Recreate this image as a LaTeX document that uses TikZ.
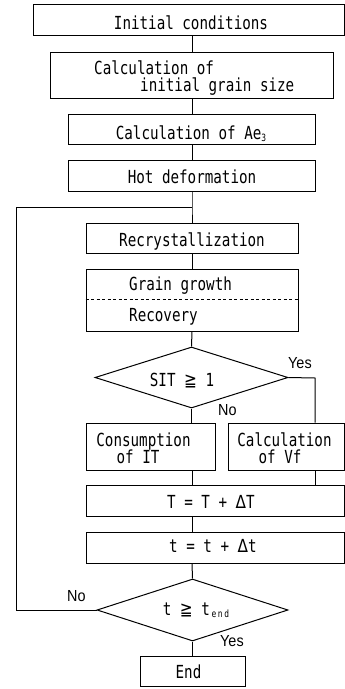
\documentclass[tikz,border=0pt]{standalone}
\usepackage{fontspec}
\setmainfont{DejaVu Sans Mono}[FakeStretch=0.79]
\newfontfamily\symf{DejaVu Sans}[FakeStretch=0.85]
\newfontfamily\lblf{Liberation Sans}[FakeStretch=0.9]
\usetikzlibrary{shapes.geometric}
\newcommand{\geqq}{{\symf ≧}}
\newcommand{\lowsub}[1]{\raisebox{-2pt}{\fontsize{10}{10}\selectfont #1}}
\begin{document}
\begin{tikzpicture}[x=1pt,y=-1pt,
  every node/.style={font=\fontsize{18}{15}\selectfont, inner sep=0pt},
  box/.style={draw, line width=1pt, rectangle},
  dia/.style={draw, line width=1pt, diamond, inner sep=0pt},
  txt/.style={anchor=base},
  lbl/.style={anchor=base west, font=\lblf\fontsize{16}{16}\selectfont},
  ln/.style={line width=1pt}]
\useasboundingbox (0,0) rectangle (345,689);
% boxes
\node[box, minimum width=311, minimum height=31] (b1) at (188.5,19.5) {};
\node[box, minimum width=283, minimum height=46] (b2) at (191.5,75) {};
\node[box, minimum width=247, minimum height=30] (b3) at (191.5,129) {};
\node[box, minimum width=247, minimum height=31] (b4) at (191.5,175.5) {};
\node[box, minimum width=212, minimum height=30] (b5) at (192,238) {};
\node[box, minimum width=212, minimum height=62] (b6) at (192,300) {};
\node[dia, minimum width=193, minimum height=61] (d1) at (191.5,377.5) {};
\node[box, minimum width=129, minimum height=47] (cons) at (150.5,446.5) {};
\node[box, minimum width=116, minimum height=47] (vf) at (286,446.5) {};
\node[box, minimum width=258, minimum height=31] (tb) at (215,500.5) {};
\node[box, minimum width=258, minimum height=31] (tt) at (215,547.5) {};
\node[dia, minimum width=191, minimum height=62] (d2) at (192.5,610) {};
\node[box, minimum width=105, minimum height=30] (en) at (192.5,671) {};
% dashed divider
\draw[ln, dash pattern=on 3pt off 2.5pt] (b6.west |- 0,299) coordinate (dl) -- (b6.east |- dl);
% texts
\node[txt] (t1) at (191,29) {Initial conditions};
\node[anchor=base west] (t2a) at (94,74) {Calculation of};
\node[anchor=base west] (t2b) at (140,91) {initial grain size};
\node[txt] (t3) at (191,139) {Calculation of Ae\lowsub{3}};
\node[txt] (t4) at (192,183) {Hot deformation};
\node[txt] (t5) at (192,246) {Recrystallization};
\node[anchor=base west] (t6a) at (129,290) {Grain growth};
\node[anchor=base west] (t6b) at (129,321) {Recovery};
\node[txt] (t7) at (182,386) {SIT \geqq\ 1};
\node[txt] (t8a) at (143.5,446) {Consumption};
\node[txt] (t8b) at (138,463) {of IT};
\node[txt] (t9a) at (284.5,446) {Calculation};
\node[txt] (t9b) at (280,463) {of Vf};
\node[txt] (t10) at (211,508) {T = T + {\symf Δ}T};
\node[txt] (t11) at (213,552) {t = t + {\symf Δ}t};
\node[txt] (t12) at (196,615) {t \geqq\ t\lowsub{\,e\,n\,d}};
\node[txt] (t13) at (188.5,678) {End};
\node[lbl] (y1) at (288,368) {Yes};
\node[lbl] (n1) at (218,415) {No};
\node[lbl] (n2) at (67,601) {No};
\node[lbl] (y2) at (220,646) {Yes};
% connectors
\coordinate (cx) at (192,0);
\coordinate (j) at (192,207);
\coordinate (loopL) at (16,207);
\coordinate (yx) at (315,378);
\draw[ln] (cx |- b1.south) -- (cx |- b2.north);
\draw[ln] (cx |- b2.south) -- (cx |- b3.north);
\draw[ln] (cx |- b3.south) -- (cx |- b4.north);
\draw[ln] (cx |- b4.south) -- (j) -- (cx |- b5.north);
\draw[ln] (b5.south) -- (b6.north);
\draw[ln] (b6.south) -- (d1.north);
\draw[ln] (d1.south) -- (d1.south |- cons.north);
\draw[ln] (d1.east) -- (yx) -- (yx |- vf.north);
\draw[ln] (cx |- cons.south) -- (cx |- tb.north);
\draw[ln] (yx |- vf.south) -- (yx |- tb.north);
\draw[ln] (cx |- tb.south) -- (cx |- tt.north);
\draw[ln] (cx |- tt.south) -- (d2.north);
\draw[ln] (d2.south) -- (en.north);
\draw[ln] (d2.west) -| (loopL) -- (j);
\end{tikzpicture}
\end{document}
